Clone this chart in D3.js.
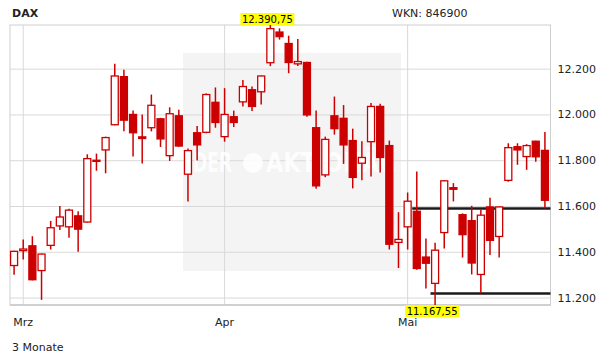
<!DOCTYPE html>
<html>
<head>
<meta charset="utf-8">
<script src="https://cdn.jsdelivr.net/npm/d3@7"></script>
<style>
  body { margin: 0; background: #fff; }
  svg text { font-family: "DejaVu Sans", Verdana, sans-serif; }
</style>
</head>
<body>
<div id="chart"></div>
<script>
'use strict';

// DAX daily candles, 3 months
let dates = [
    "2015-02-27",
    "2015-03-02", "2015-03-03", "2015-03-04", "2015-03-05", "2015-03-06",
    "2015-03-09", "2015-03-10", "2015-03-11", "2015-03-12", "2015-03-13",
    "2015-03-16", "2015-03-17", "2015-03-18", "2015-03-19", "2015-03-20",
    "2015-03-23", "2015-03-24", "2015-03-25", "2015-03-26", "2015-03-27",
    "2015-03-30", "2015-03-31",
    "2015-04-01", "2015-04-02", "2015-04-07", "2015-04-08", "2015-04-09",
    "2015-04-10", "2015-04-13", "2015-04-14", "2015-04-15", "2015-04-16",
    "2015-04-17", "2015-04-20", "2015-04-21", "2015-04-22", "2015-04-23",
    "2015-04-24", "2015-04-27", "2015-04-28", "2015-04-29", "2015-04-30",
    "2015-05-04", "2015-05-05", "2015-05-06", "2015-05-07", "2015-05-08",
    "2015-05-11", "2015-05-12", "2015-05-13", "2015-05-14", "2015-05-15",
    "2015-05-18", "2015-05-19", "2015-05-20", "2015-05-21", "2015-05-22",
    "2015-05-26"];

let opens = [
    11340, 11405, 11426, 11318, 11428, 11513, 11509, 11557, 11530, 11795,
    11845, 11955, 12165, 12000, 11902, 11942, 11981, 11820, 11994, 11739,
    11920, 11922, 12053, 11903, 11990, 12055, 12108, 12099, 12226, 12360,
    12310, 12221, 12227, 11942, 11736, 11994, 11983, 11886, 11787, 11881,
    12035, 11864, 11441, 11509, 11577, 11377, 11262, 11484, 11680, 11562,
    11536, 11301, 11596, 11467, 11712, 11859, 11816, 11883, 11843];

let highs = [
    11405, 11454, 11468, 11392, 11535, 11600, 11588, 11577, 11826, 11829,
    11903, 12221, 12195, 12017, 12000, 12087, 11985, 12031, 12021, 11851,
    11949, 12092, 12118, 12115, 12017, 12150, 12122, 12170, 12390.75, 12376,
    12344, 12330, 12230, 12017, 11903, 12078, 12041, 11938, 11883, 12050,
    12047, 11886, 11573, 11659, 11751, 11458, 11440, 11714, 11700, 11568,
    11601, 11584, 11636, 11598, 11874, 11874, 11870, 11885, 11923];

let lows = [
    11300, 11366, 11275, 11190, 11410, 11495, 11461, 11400, 11528, 11754,
    11743, 11953, 11927, 11816, 11786, 11926, 11858, 11797, 11859, 11620,
    11799, 11918, 11942, 11881, 11945, 12035, 12015, 12043, 12211, 12327,
    12180, 12212, 11990, 11675, 11726, 11912, 11784, 11677, 11712, 11729,
    11746, 11410, 11329, 11410, 11322, 11240, 11167.55, 11414, 11620, 11375,
    11301, 11218, 11386, 11375, 11706, 11780, 11758, 11793, 11589];

let closes = [
    11402, 11412, 11278, 11390, 11505, 11552, 11582, 11499, 11807, 11800,
    11899, 12168, 11975, 11920, 11895, 12040, 11893, 12003, 11862, 11842,
    11867, 12087, 11965, 12000, 11965, 12122, 12035, 12168, 12375, 12340,
    12227, 12231, 11998, 11688, 11891, 11938, 11867, 11725, 11812, 12035,
    11812, 11433, 11454, 11621, 11327, 11350, 11407, 11710, 11673, 11475,
    11351, 11560, 11450, 11596, 11855, 11845, 11864, 11815, 11625];

let yTicks = [11200, 11400, 11600, 11800, 12000, 12200];
let monthNames = ["Jan", "Feb", "Mrz", "Apr", "Mai", "Jun", "Jul", "Aug", "Sep", "Okt", "Nov", "Dez"];

// support lines drawn in the chart (level, first date)
let supportLevels = [11589, 11218];
let supportStarts = ["2015-05-05", "2015-05-07"];

const width = 611;
const height = 364;
const plotLeft = 10, plotRight = 550.5, plotTop = 25, plotBottom = 305;
const red = "#cc0000";

let deLocale = d3.formatLocale({decimal: ",", thousands: ".", grouping: [3], currency: ["", " €"]});
let fmtInt = deLocale.format(",.0f");
let fmtDec = deLocale.format(",.2f");

let candles = dates.map((d, i) => ({
    date: d, open: opens[i], high: highs[i], low: lows[i], close: closes[i]
}));

let svg = d3.select("#chart")
            .append("svg")
            .attr("width", width)
            .attr("height", height);

let x = d3.scaleBand()
          .domain(dates)
          .range([9.5, 549.5])
          .padding(0);
let xc = d => x(d) + x.bandwidth() / 2;

let y = d3.scaleLinear()
          .domain([d3.min(lows), d3.max(highs)])
          .range([plotBottom, plotTop]);

// watermark area
svg.append("rect")
   .attr("x", 183).attr("y", 53)
   .attr("width", 218).attr("height", 218)
   .style("fill", "#f4f4f4");

// y grid + labels
let yAxis = svg.append("g")
               .attr("transform", "translate(" + plotRight + ",0)")
               .call(d3.axisRight(y)
                       .tickValues(yTicks)
                       .tickFormat(fmtInt)
                       .tickSize(-(plotRight - plotLeft))
                       .tickPadding(7));
yAxis.select(".domain").remove();
yAxis.selectAll("line").style("stroke", "#d9d9d9");
yAxis.selectAll("text").attr("font-size", 11).style("fill", "#222");

// month grid + labels
let monthStarts = dates.filter((d, i) => i > 0 && d.slice(5, 7) !== dates[i - 1].slice(5, 7));
let xAxis = svg.append("g")
               .attr("transform", "translate(0," + plotBottom + ")")
               .call(d3.axisBottom(x)
                       .tickValues(monthStarts)
                       .tickFormat(d => monthNames[+d.slice(5, 7) - 1])
                       .tickSize(-(plotBottom - plotTop))
                       .tickPadding(13));
xAxis.select(".domain").remove();
xAxis.selectAll("line").style("stroke", "#d9d9d9");
xAxis.selectAll("text").attr("font-size", 11).style("fill", "#222");

// watermark text (over grid, under candles)
let wm = svg.append("g").style("fill", "#fff").style("opacity", 0.85);
wm.append("text").attr("x", 193).attr("y", 172)
  .attr("font-size", 26).attr("font-weight", "bold")
  .attr("textLength", 39).attr("lengthAdjust", "spacingAndGlyphs")
  .text("DER");
wm.append("circle").attr("cx", 253).attr("cy", 163).attr("r", 10);
wm.append("text").attr("x", 266).attr("y", 172)
  .attr("font-size", 26).attr("font-weight", "bold")
  .attr("textLength", 130).attr("lengthAdjust", "spacingAndGlyphs")
  .text("AKTIONÄR");

// plot frame
svg.append("rect")
   .attr("x", plotLeft).attr("y", plotTop)
   .attr("width", plotRight - plotLeft).attr("height", plotBottom - plotTop)
   .style("fill", "none").style("stroke", "#cfcfcf");
svg.append("line")
   .attr("x1", plotLeft).attr("x2", plotRight)
   .attr("y1", plotBottom).attr("y2", plotBottom)
   .style("stroke", "#c8c8c8").style("stroke-width", 1.5);

// support lines
supportLevels.forEach((lvl, i) => {
    svg.append("line")
       .attr("x1", x(supportStarts[i])).attr("x2", plotRight)
       .attr("y1", y(lvl)).attr("y2", y(lvl))
       .style("stroke", "#1a1a1a")
       .style("stroke-width", 2.5);
});

// candles
let bodyW = 7;
let g = svg.append("g");
g.selectAll("line.wick")
 .data(candles)
 .enter()
 .append("line")
 .attr("class", "wick")
 .attr("x1", d => xc(d.date)).attr("x2", d => xc(d.date))
 .attr("y1", d => y(d.high)).attr("y2", d => y(d.low))
 .style("stroke", red)
 .style("stroke-width", 1.5);
g.selectAll("rect.body")
 .data(candles)
 .enter()
 .append("rect")
 .attr("class", "body")
 .attr("x", d => xc(d.date) - bodyW / 2)
 .attr("width", bodyW)
 .attr("y", d => y(Math.max(d.open, d.close)))
 .attr("height", d => Math.max(1, Math.abs(y(d.open) - y(d.close))))
 .style("fill", d => d.close >= d.open ? "#fff" : red)
 .style("stroke", red)
 .style("stroke-width", 1.3);

// max / min markers
function marker(value, dateStr, top) {
    let label = fmtDec(value);
    let cx = xc(dateStr) - 3;
    let grp = svg.append("g");
    let t = grp.append("text")
               .attr("x", cx)
               .attr("text-anchor", "middle")
               .attr("font-size", 10)
               .style("fill", "#000")
               .text(label);
    let w = t.node().getComputedTextLength() + 3;
    let boxY = top ? 13 : 305;
    grp.insert("rect", "text")
       .attr("x", cx - w / 2).attr("y", boxY)
       .attr("width", w).attr("height", 12)
       .style("fill", "#ffff00");
    t.attr("y", boxY + 10);
}
let iMax = d3.maxIndex(highs);
let iMin = d3.minIndex(lows);
marker(highs[iMax], dates[iMax], true);
marker(lows[iMin], dates[iMin], false);

// header and footer
svg.append("text")
   .attr("x", 12).attr("y", 17)
   .attr("font-size", 11).attr("font-weight", "bold")
   .style("fill", "#222")
   .text("DAX");
svg.append("text")
   .attr("x", 392).attr("y", 17)
   .attr("font-size", 11)
   .style("fill", "#222")
   .text("WKN: 846900");
svg.append("text")
   .attr("x", 12).attr("y", 351)
   .attr("font-size", 11)
   .style("fill", "#222")
   .text("3 Monate");
</script>
</body>
</html>
